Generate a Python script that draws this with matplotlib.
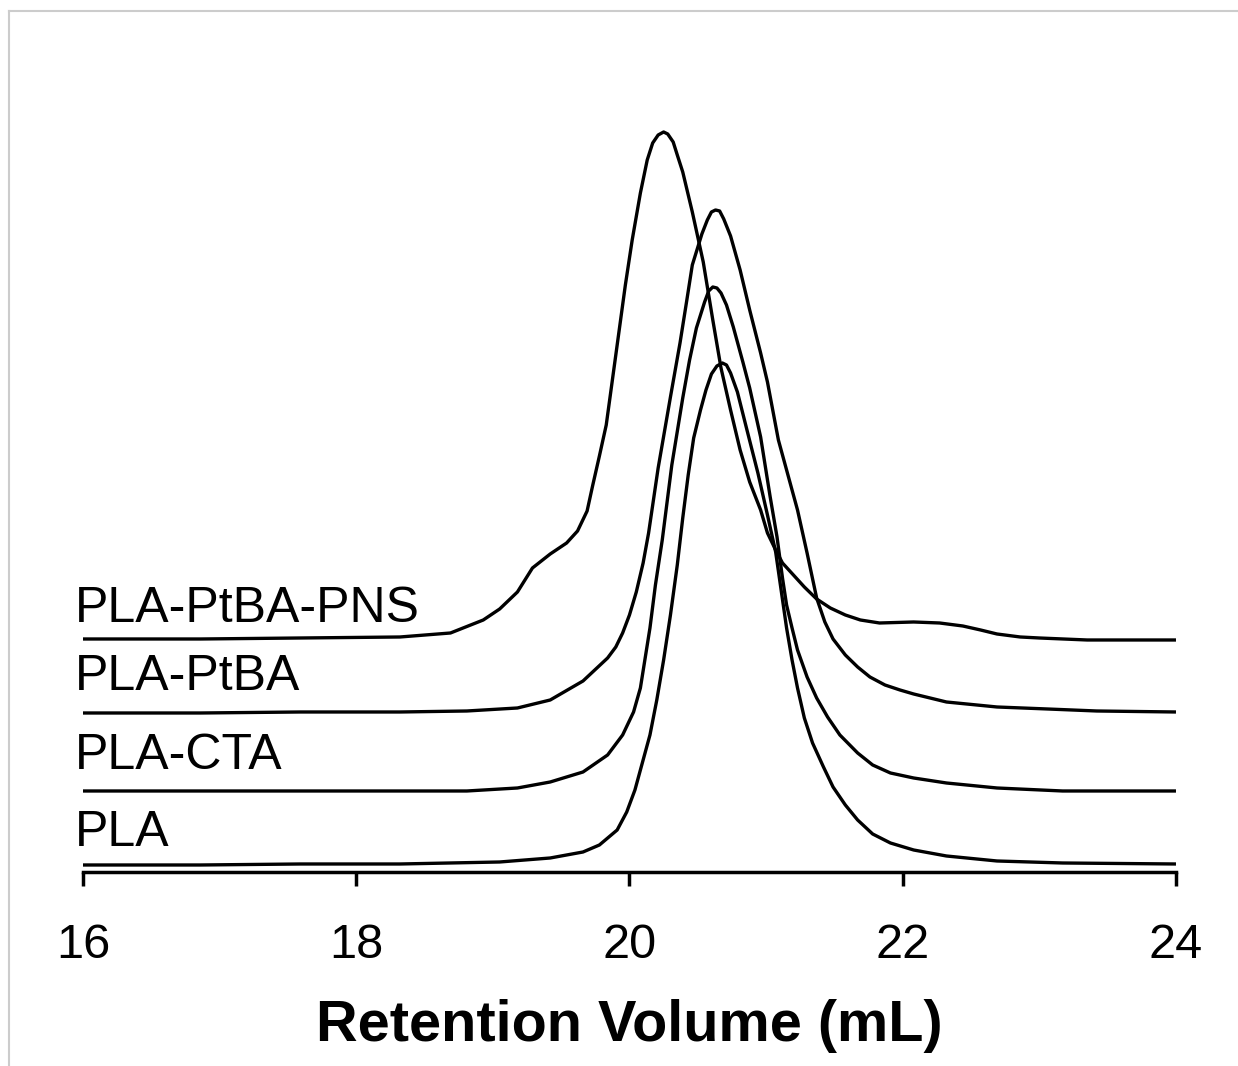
import matplotlib
matplotlib.use("Agg")
import matplotlib.pyplot as plt
from matplotlib.lines import Line2D

plt.rcParams['font.family'] = ['Liberation Sans', 'DejaVu Sans']

### GPC traces (retention volume in mL, offset detector signal in a.u.) ###
pla_x = [16.00, 16.86, 17.59, 18.32, 19.05, 19.42, 19.66, 19.78, 19.91, 19.98,
         20.04, 20.09, 20.15, 20.20, 20.25, 20.30, 20.35, 20.39, 20.43, 20.47,
         20.52, 20.56, 20.60, 20.64, 20.68, 20.71, 20.74, 20.79, 20.86, 20.94,
         21.01, 21.07, 21.11, 21.15, 21.19, 21.23, 21.28, 21.34, 21.42, 21.49,
         21.58, 21.67, 21.78, 21.91, 22.08, 22.32, 22.69, 23.17, 24.00]
pla_y = [0.07, 0.07, 0.08, 0.08, 0.10, 0.14, 0.20, 0.27, 0.42, 0.60,
         0.82, 1.07, 1.37, 1.72, 2.12, 2.57, 3.07, 3.54, 3.97, 4.34,
         4.62, 4.82, 4.98, 5.06, 5.09, 5.07, 4.99, 4.80, 4.42, 3.99,
         3.57, 3.20, 2.82, 2.44, 2.12, 1.84, 1.54, 1.29, 1.05, 0.85,
         0.67, 0.52, 0.38, 0.29, 0.22, 0.16, 0.11, 0.09, 0.08]

cta_x = [16.00, 16.86, 17.59, 18.32, 18.81, 19.18, 19.42, 19.66, 19.84, 19.95,
         20.03, 20.08, 20.15, 20.19, 20.24, 20.31, 20.39, 20.44, 20.49, 20.55,
         20.58, 20.61, 20.64, 20.67, 20.71, 20.76, 20.83, 20.88, 20.96, 21.03,
         21.08, 21.12, 21.15, 21.19, 21.23, 21.30, 21.37, 21.45, 21.54, 21.67,
         21.78, 21.91, 22.08, 22.32, 22.69, 23.17, 24.00]
cta_y = [0.81, 0.81, 0.81, 0.81, 0.81, 0.84, 0.90, 1.00, 1.17, 1.37,
         1.60, 1.84, 2.44, 2.87, 3.32, 4.07, 4.74, 5.12, 5.44, 5.70,
         5.81, 5.85, 5.84, 5.79, 5.67, 5.45, 5.10, 4.84, 4.35, 3.75,
         3.35, 2.94, 2.67, 2.44, 2.22, 1.95, 1.74, 1.55, 1.37, 1.19,
         1.07, 0.99, 0.94, 0.89, 0.84, 0.81, 0.81]

ptba_x = [16.00, 16.86, 17.59, 18.32, 18.81, 19.18, 19.42, 19.66, 19.84, 19.90,
          19.95, 20.00, 20.05, 20.10, 20.14, 20.21, 20.30, 20.37, 20.42, 20.46,
          20.53, 20.57, 20.60, 20.63, 20.66, 20.69, 20.74, 20.81, 20.88, 20.96,
          21.01, 21.09, 21.16, 21.23, 21.30, 21.37, 21.43, 21.49, 21.58, 21.67,
          21.76, 21.87, 21.98, 22.08, 22.32, 22.69, 23.06, 23.42, 24.00]
ptba_y = [1.59, 1.59, 1.60, 1.60, 1.61, 1.64, 1.72, 1.91, 2.14, 2.25,
          2.39, 2.57, 2.80, 3.09, 3.39, 4.04, 4.75, 5.29, 5.72, 6.07,
          6.38, 6.52, 6.60, 6.62, 6.61, 6.53, 6.36, 6.02, 5.62, 5.19,
          4.90, 4.32, 3.97, 3.62, 3.19, 2.74, 2.50, 2.33, 2.17, 2.05,
          1.95, 1.87, 1.82, 1.78, 1.70, 1.65, 1.63, 1.61, 1.60]

pns_x = [16.00, 16.86, 17.59, 18.32, 18.69, 18.93, 19.05, 19.18, 19.29, 19.42,
         19.54, 19.62, 19.69, 19.73, 19.78, 19.83, 19.87, 19.92, 19.97, 20.02,
         20.08, 20.13, 20.17, 20.21, 20.25, 20.28, 20.32, 20.35, 20.39, 20.46,
         20.54, 20.61, 20.67, 20.74, 20.81, 20.88, 20.96, 21.01, 21.07, 21.12,
         21.20, 21.28, 21.37, 21.47, 21.58, 21.69, 21.83, 22.08, 22.27, 22.44,
         22.57, 22.69, 22.86, 23.00, 23.35, 24.00]
pns_y = [2.33, 2.33, 2.34, 2.35, 2.39, 2.52, 2.63, 2.80, 3.04, 3.18,
         3.29, 3.41, 3.61, 3.86, 4.16, 4.47, 4.87, 5.37, 5.87, 6.32,
         6.79, 7.12, 7.29, 7.37, 7.40, 7.38, 7.30, 7.17, 7.00, 6.60,
         6.10, 5.52, 5.04, 4.62, 4.22, 3.90, 3.62, 3.39, 3.22, 3.09,
         2.97, 2.85, 2.73, 2.64, 2.57, 2.52, 2.49, 2.50, 2.49, 2.46,
         2.42, 2.38, 2.35, 2.34, 2.32, 2.32]

names = ["PLA", "PLA-CTA", "PLA-PtBA", "PLA-PtBA-PNS"]
label_y = [0.26, 1.03, 1.82, 2.50]

xticks = [16, 18, 20, 22, 24]

### figure ###
fig = plt.figure(figsize=(12.38, 10.66), dpi=100)
ax = fig.add_axes([0.0670, 0.1820, 0.8829, 0.7242])

for xs, ys in [(pla_x, pla_y), (cta_x, cta_y), (ptba_x, ptba_y), (pns_x, pns_y)]:
    ax.plot(xs, ys, color='black', linewidth=2.4,
            solid_joinstyle='round', solid_capstyle='butt')

for name, yl in zip(names, label_y):
    ax.text(15.94, yl, name, fontsize=36, va='baseline', ha='left',
            clip_on=False)

ax.set_xlim(16, 24)
ax.set_ylim(0, 7.72)
ax.set_xticks(xticks)
ax.set_yticks([])
for side in ['top', 'right', 'left']:
    ax.spines[side].set_visible(False)
ax.spines['bottom'].set_linewidth(2.5)
ax.tick_params(axis='x', direction='out', length=10, width=2.5,
               labelsize=35, pad=27)
ax.set_xlabel("Retention Volume (mL)", fontsize=41.5, fontweight='bold',
              labelpad=22)

## light grey frame at the top and left of the picture
fig.add_artist(Line2D([0.00727, 0.00727], [0.0, 0.98968], transform=fig.transFigure,
                      color='#cccccc', linewidth=1.5))
fig.add_artist(Line2D([0.00727, 1.0], [0.98968, 0.98968], transform=fig.transFigure,
                      color='#cccccc', linewidth=1.5))

fig.savefig("out.png", dpi=100)
